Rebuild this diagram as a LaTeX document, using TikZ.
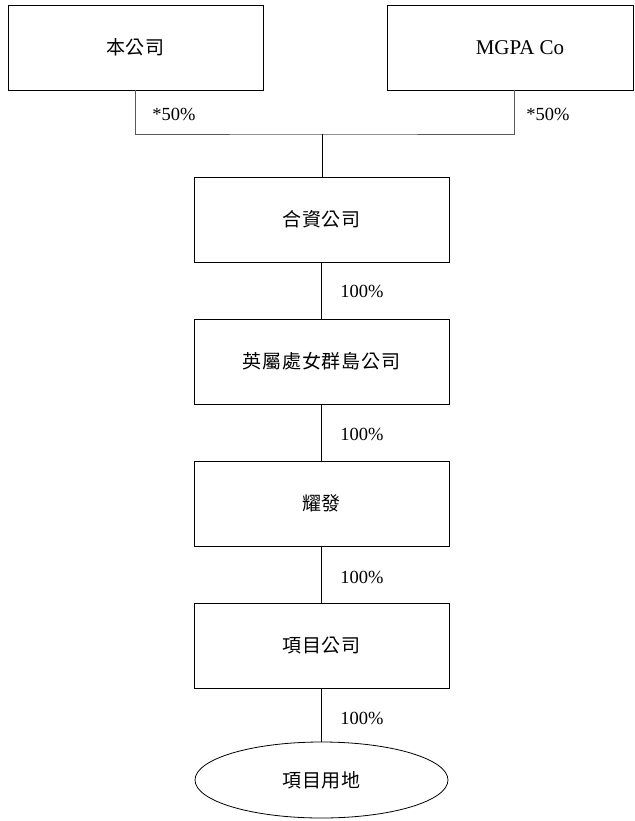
\documentclass[tikz,border=0pt]{standalone}
\usepackage{fontspec}
\setmainfont{Liberation Serif}
\newfontfamily\cjk[LetterSpace=4]{Noto Sans CJK TC}
\usetikzlibrary{shapes.geometric}
\begin{document}
\begin{tikzpicture}[x=1pt,y=-1pt,
  box/.style={draw, line width=0.8pt, rectangle, inner sep=0pt, minimum height=85pt, font=\cjk\fontsize{19}{22}\selectfont},
  oval/.style={draw, line width=0.8pt, ellipse, inner sep=0pt, minimum width=253pt, minimum height=76pt, font=\cjk\fontsize{19}{22}\selectfont},
  lbl/.style={font=\fontsize{18.5}{22}\selectfont, inner sep=0pt},
  conn/.style={line width=0.8pt}]
\useasboundingbox (0,0) rectangle (634,821);
\node[box, minimum width=255pt] (L) at (135.5,47.5) {本公司};
\node[box, minimum width=246pt, font=\fontsize{21}{24}\selectfont] (R) at (510,47.5) {\hspace*{20pt}MGPA Co};
\node[box, minimum width=255pt] (B2) at (321.5,219.5) {合資公司};
\node[box, minimum width=255pt] (B3) at (321.5,361.5) {英屬處女群島公司};
\node[box, minimum width=255pt] (B4) at (321.5,503.5) {耀發};
\node[box, minimum width=255pt] (B5) at (321.5,645.5) {項目公司};
\node[oval] (E) at (321.5,780) {項目用地};
\coordinate (j) at (322,134);
\coordinate (Rp) at ([xshift=128pt]R.south west);
\draw[conn, black!65] (L.south) |- (j) -| (Rp);
\draw[conn] (j) -- (j |- B2.north);
\draw[conn] (B2) -- (B3);
\draw[conn] (B3) -- (B4);
\draw[conn] (B4) -- (B5);
\draw[conn] (B5) -- (E);
\node[lbl] (l1) at (174,114) {*50\%};
\node[lbl] (l2) at (548,114) {*50\%};
\node[lbl] (l3) at (362,291) {100\%};
\node[lbl] (l4) at (362,434) {100\%};
\node[lbl] (l5) at (362,577) {100\%};
\node[lbl] (l6) at (362,718) {100\%};
\end{tikzpicture}
\end{document}
